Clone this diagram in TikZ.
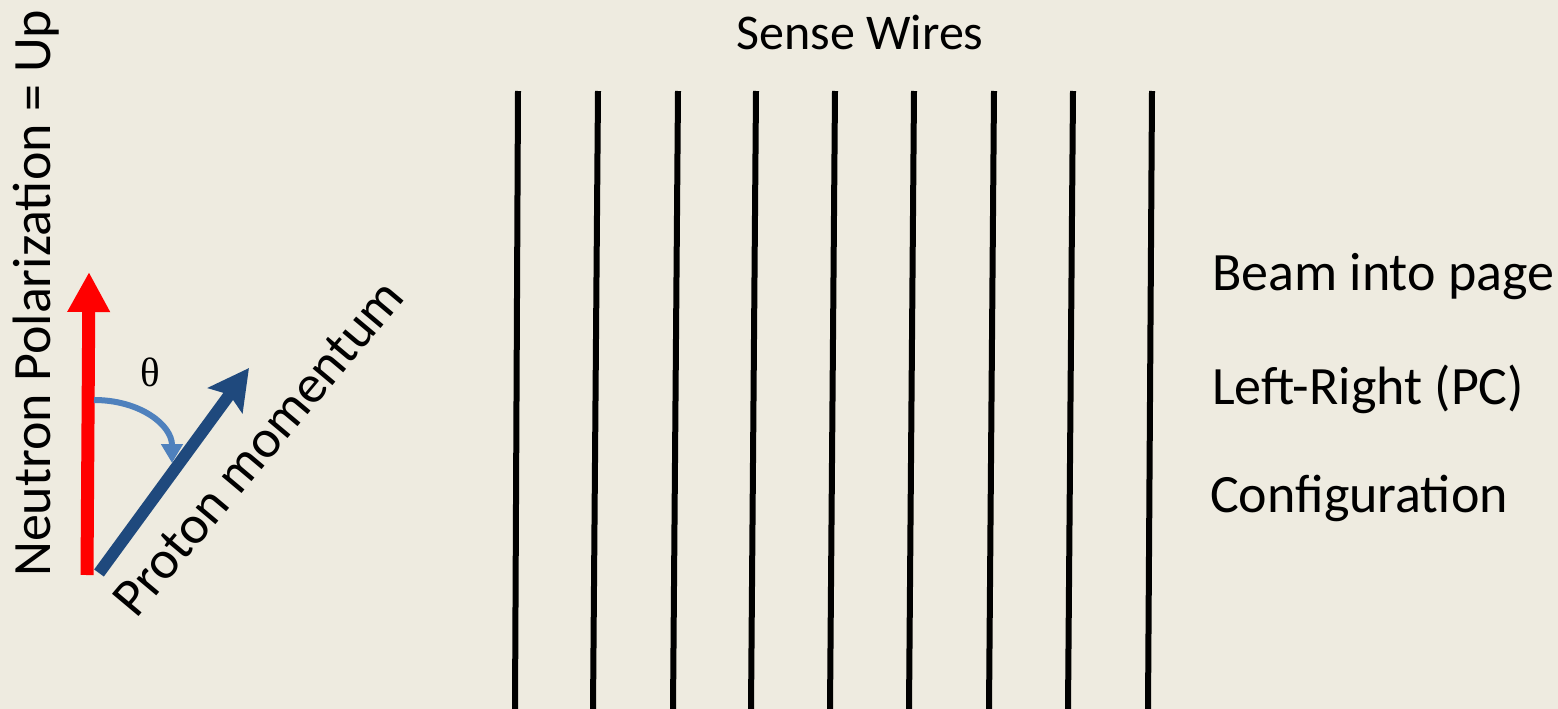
\documentclass[tikz,border=0pt]{standalone}
\usepackage{graphicx}
\usepackage{fontspec}
\setmainfont{Carlito}
\newfontfamily\greekserif{Liberation Serif}
\usetikzlibrary{arrows.meta}
\definecolor{paper}{HTML}{EEEBE0}
\definecolor{polred}{HTML}{FF0000}
\definecolor{momblue}{HTML}{1F497D}
\definecolor{anglblue}{HTML}{4F81BD}

\begin{document}
\begin{tikzpicture}[x=1pt,y=-1pt,
  wire/.style={line width=6pt,black},
  label/.style={inner sep=0pt,font=\fontsize{54}{60}\selectfont}]
  % slide background, one unit per pixel
  \fill[paper] (0,0) rectangle (1558,709);
  \useasboundingbox (0,0) rectangle (1558,709);
  % sense wires: top x / bottom x (they lean a little)
  \foreach \xt/\xb [count=\i] in {518/515,598/593,678/673,756/751,835/830,914/909,994/989,1073/1068,1152/1148}{
    \coordinate (wt\i) at (\xt,91);
    \coordinate (wb\i) at (\xb,709);
    \draw[wire] (wt\i) -- (wb\i);
  }
  \node[label,font=\fontsize{50}{56}\selectfont,anchor=base] (sense) at (860,50) {Sense Wires};
  % polarization and momentum vectors
  \coordinate (nbase) at (87,575);
  \coordinate (ntip) at (89,272);
  \draw[polred,line width=13pt,-{Triangle[length=40pt,width=40pt]}] (nbase) -- (ntip);
  \coordinate (pbase) at (99,573);
  \coordinate (ptip) at (249,368);
  \draw[momblue,line width=12pt,-{Stealth[length=40pt,width=42pt,inset=7pt]}] (pbase) -- (ptip);
  % angle between them
  \coordinate (arcstart) at (94,400);
  \coordinate (arcend) at (172,463);
  \draw[anglblue,line width=6pt,-{Triangle[length=19pt,width=21pt]}] (arcstart) .. controls (140,400) and (172,425) .. (arcend);
  \node[inner sep=0pt,font=\greekserif\fontsize{41}{41}\selectfont] (theta) at (150,372) {θ};
  % labels
  \node[label,rotate=90,anchor=base west] (npol) at (50,577) {Neutron Polarization = Up};
  \node[label,rotate=50,anchor=base west] (pmom) at (136,620) {Proton momentum};
  \node[label,anchor=base west] (beam) at (1212,290) {Beam into page};
  \node[label,anchor=base west] (lr) at (1212,404) {Left-Right (PC)};
  \node[label,anchor=base west] (conf) at (1210,512) {Configuration};
\end{tikzpicture}
\end{document}
